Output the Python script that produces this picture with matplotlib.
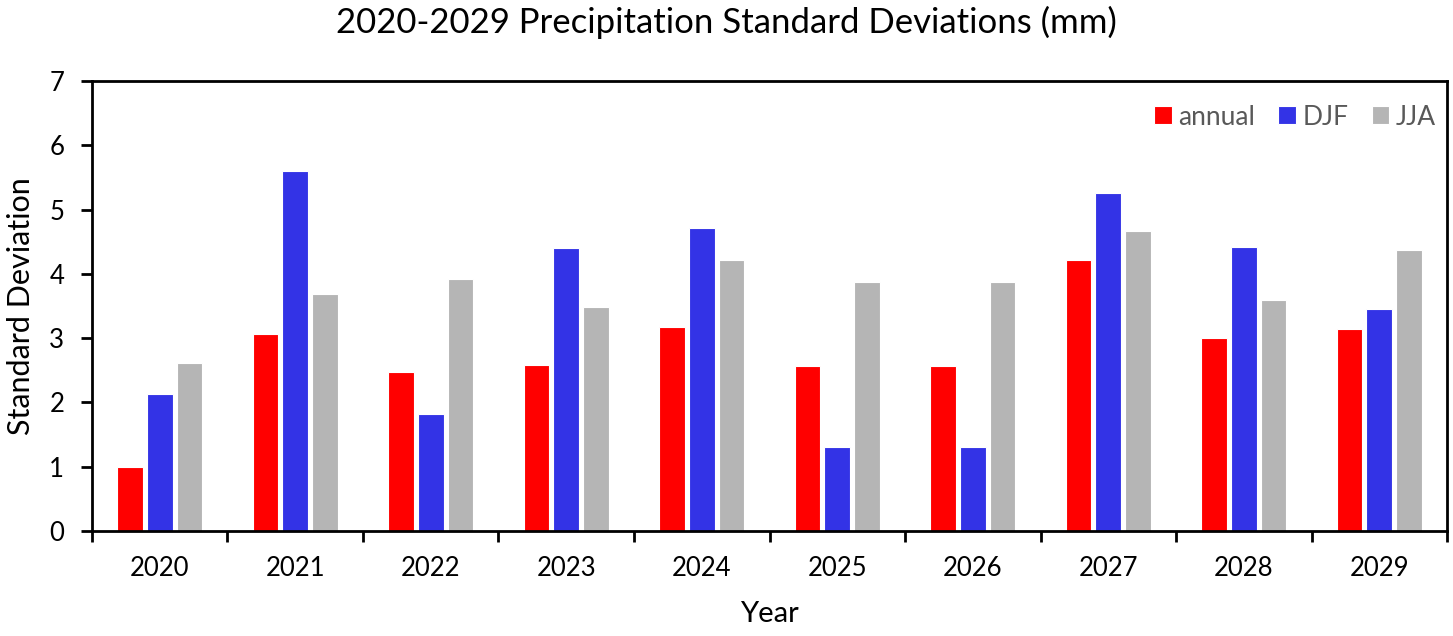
import matplotlib.pyplot as plt
import numpy as np

years = ['2020', '2021', '2022', '2023', '2024', '2025', '2026', '2027', '2028', '2029']
annual = [1.00, 3.06, 2.48, 2.58, 3.17, 2.56, 2.56, 4.22, 3.01, 3.15]
djf = [2.13, 5.60, 1.82, 4.40, 4.72, 1.31, 1.31, 5.26, 4.42, 3.45]
jja = [2.61, 3.69, 3.92, 3.49, 4.21, 3.88, 3.88, 4.67, 3.60, 4.37]

plt.rcParams['font.family'] = ['Lato', 'DejaVu Sans']

fig = plt.figure(figsize=(14.53, 6.36), dpi=100)
ax = fig.add_axes([0.0633, 0.165, 0.9326, 0.7076])

x = np.arange(len(years))
w = 0.19
step = 0.22
ax.bar(x - step, annual, w, color='#ff0000', edgecolor='white', linewidth=0.8, label='annual')
ax.bar(x, djf, w, color='#3333e6', edgecolor='white', linewidth=0.8, label='DJF')
ax.bar(x + step, jja, w, color='#b5b5b5', edgecolor='white', linewidth=0.8, label='JJA')

ax.set_xlim(-0.5, len(years) - 0.5)
ax.set_ylim(0, 7)
ax.set_yticks(range(0, 8))
ax.set_xticks(x)
ax.set_xticklabels(years)
# category boundary ticks like excel
ax.set_xticks(np.arange(-0.5, len(years), 1), minor=True)
ax.tick_params(axis='x', which='major', length=0, labelsize=18.5, pad=18)
ax.tick_params(axis='x', which='minor', length=8, width=2, direction='out')
ax.tick_params(axis='y', length=8, width=2, direction='out', labelsize=18.5, pad=12)
for s in ax.spines.values():
    s.set_linewidth(2)

ax.set_xlabel('Year', fontsize=21, labelpad=14)
ax.set_ylabel('Standard Deviation', fontsize=22, labelpad=10)
fig.text(0.5, 1 - 22 / 636, '2020-2029 Precipitation Standard Deviations (mm)',
         fontsize=25, ha='center', va='center')

leg = ax.legend(loc='center right', ncol=3, frameon=False, fontsize=19,
                handlelength=0.68, handleheight=0.68, handletextpad=0.25,
                columnspacing=0.87, borderpad=0, borderaxespad=0,
                bbox_to_anchor=(0.992, 0.92))
for t in leg.get_texts():
    t.set_color('#595959')

fig.savefig('out.png', dpi=100)
